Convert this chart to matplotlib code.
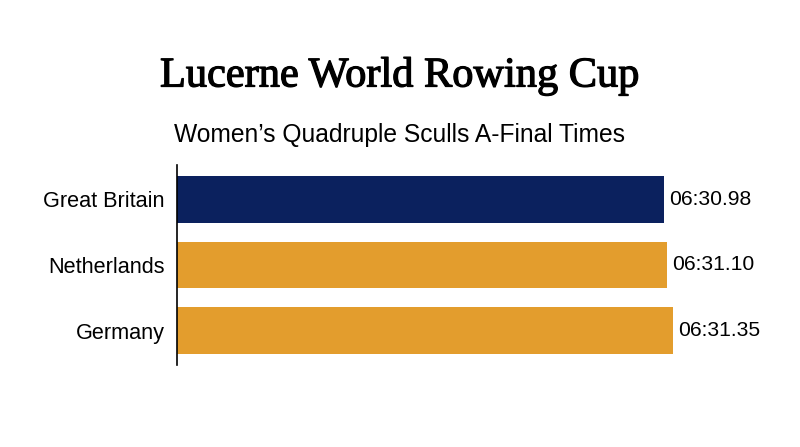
import matplotlib
matplotlib.use("Agg")
import matplotlib.pyplot as plt
import matplotlib.patheffects as pe

# race results, times in seconds (6:xx.xx)
countries = ["Great Britain", "Netherlands", "Germany"]
times = [390.98, 391.10, 391.35]
time_labels = ["06:30.98", "06:31.10", "06:31.35"]
bar_colors = ["#0b215e", "#e39d2d", "#e39d2d"]

fig = plt.figure(figsize=(8, 4.47), dpi=100)
ax = fig.add_axes([177 / 800, 1 - 365 / 447, 513 / 800, 200 / 447])

ax.barh(countries, [t - 370 for t in times], left=370, height=0.71, color=bar_colors)
ax.set_xlim(370, 370 + 513 / 23.21)
ax.set_ylim(2.52, -0.52)

for i, (t, lab) in enumerate(zip(times, time_labels)):
    ax.annotate(lab, (t, i), xytext=(4, 0), textcoords="offset points",
                va="center", ha="left", fontsize=15.2, family="Liberation Sans",
                annotation_clip=False)

for s in ["top", "right", "bottom"]:
    ax.spines[s].set_visible(False)
ax.spines["left"].set_linewidth(1.2)
ax.set_xticks([])
ax.tick_params(axis="y", length=0, pad=9)
for t in ax.get_yticklabels():
    t.set_fontsize(15.6)
    t.set_family("Liberation Sans")

title = fig.text(0.5, 1 - 76 / 447, "Lucerne World Rowing Cup", ha="center", va="center",
                 fontsize=30.5, family="Liberation Serif")
title.set_path_effects([pe.withStroke(linewidth=0.9, foreground="black")])
fig.text(0.5, 1 - 135 / 447, "Women\u2019s Quadruple Sculls A-Final Times", ha="center",
         va="center", fontsize=17.7, family="Liberation Sans")

fig.savefig("out.png", dpi=100, facecolor="white")
